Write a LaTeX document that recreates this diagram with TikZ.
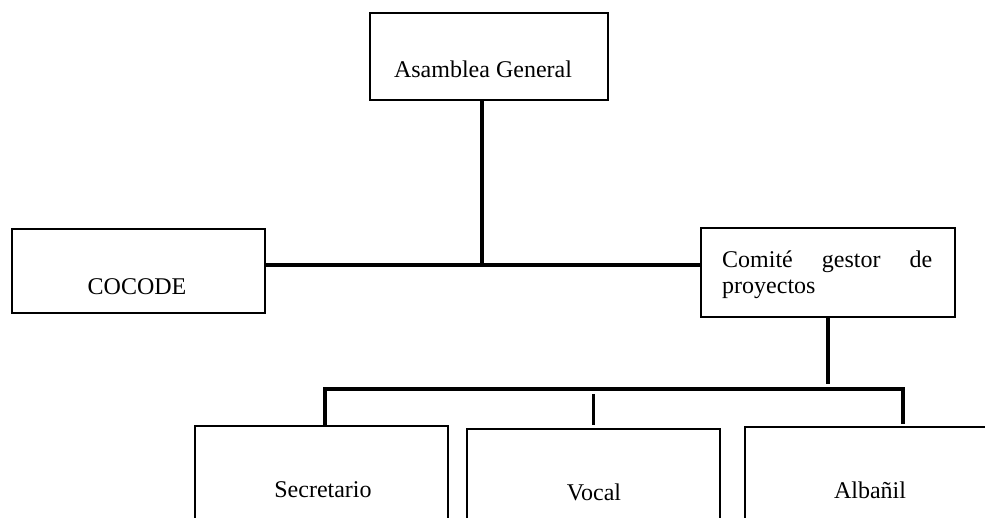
\documentclass[tikz,border=0pt]{standalone}
\usepackage{fontspec}
\setmainfont{Liberation Serif}
\begin{document}
\begin{tikzpicture}[x=1pt,y=-1pt,
        box/.style={draw,line width=1.6pt,inner sep=0pt},
        txt/.style={inner sep=0pt,font=\fontsize{24}{26}\selectfont},
        link/.style={line width=3.5pt}]
        \clip (0,0) rectangle (985,518);
        \node[box,minimum width=238,minimum height=87](asamblea)at(489,56.5){};
        \node[box,minimum width=253,minimum height=84](cocode)at(138.5,271){};
        \node[box,minimum width=254,minimum height=89](comite)at(828,272.5){};
        \node[box,minimum width=253,minimum height=134](secretario)at(321.5,493){};
        \node[box,minimum width=253,minimum height=131](vocal)at(593.5,494.5){};
        \node[box,minimum width=255,minimum height=133](albanil)at(872.5,493.5){};
        \node[txt](asambleatxt)at(483,69){Asamblea General};
        \node[txt](cocodetxt)at(137,287){COCODE};
        \node[txt,text width=210pt,align=left,anchor=north west](comitetxt)at(722,251){\makebox[\linewidth][s]{Comité\hfill gestor\hfill de}\\proyectos};
        \node[txt](secretariotxt)at(323,490){Secretario};
        \node[txt](vocaltxt)at(594,492){Vocal};
        \node[txt](albaniltxt)at(870,490){Albañil};
        \coordinate (jn) at (482,265);
        \coordinate (bl) at (325,389);
        \coordinate (br) at (903,389);
        \draw[link] (asamblea.south -| jn) -- (jn);
        \draw[link] (cocode.east |- jn) -- (comite.west |- jn);
        \draw[link] (comite.south) -- ++(0,66);
        \draw[link,shorten >=2pt] (secretario.north -| bl) -- (bl) -- (br) -- (albanil.north -| br);
        \draw[link,shorten <=5pt,shorten >=3pt] (vocal.north |- bl) -- (vocal.north);
    \end{tikzpicture}
\end{document}
